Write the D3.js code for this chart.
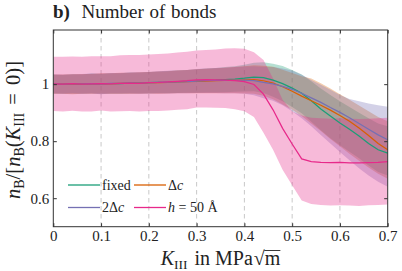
<!DOCTYPE html>
<html>
<head>
<meta charset="utf-8">
<script src="https://cdn.jsdelivr.net/npm/d3@7"></script>
<style>
  body { margin: 0; background: #fff; }
  svg { display: block; }
  text { font-family: "Liberation Serif", serif; fill: #222; }
</style>
</head>
<body>
<div id="chart"></div>
<script>
"use strict";

// K_III grid (MPa sqrt(m))
var kValues = [0.00, 0.02, 0.04, 0.06, 0.08, 0.10, 0.12, 0.14, 0.16, 0.18,
               0.20, 0.22, 0.24, 0.26, 0.28, 0.30, 0.32, 0.34, 0.36, 0.38,
               0.40, 0.42, 0.44, 0.46, 0.48, 0.50, 0.52, 0.54, 0.56, 0.58,
               0.60, 0.62, 0.64, 0.66, 0.68, 0.70];

// normalised number of bonds: mean with lower / upper edge of the spread
var fixedMean = [1.000, 0.999, 1.001, 1.000, 1.002, 1.001, 1.002, 1.002, 1.004, 1.004,
                 1.005, 1.006, 1.007, 1.009, 1.010, 1.011, 1.013, 1.014, 1.016, 1.018,
                 1.021, 1.025, 1.023, 1.014, 1.002, 0.986, 0.968, 0.942, 0.913, 0.888,
                 0.864, 0.842, 0.818, 0.792, 0.770, 0.758];
var fixedLow = [0.967, 0.966, 0.967, 0.966, 0.967, 0.966, 0.966, 0.966, 0.967, 0.967,
                0.967, 0.968, 0.968, 0.969, 0.970, 0.970, 0.971, 0.971, 0.972, 0.973,
                0.974, 0.975, 0.969, 0.956, 0.940, 0.920, 0.898, 0.868, 0.838, 0.810,
                0.786, 0.763, 0.740, 0.715, 0.692, 0.680];
var fixedHigh = [1.033, 1.032, 1.035, 1.034, 1.037, 1.036, 1.038, 1.038, 1.041, 1.041,
                 1.043, 1.044, 1.046, 1.049, 1.050, 1.052, 1.055, 1.057, 1.060, 1.063,
                 1.068, 1.075, 1.077, 1.072, 1.064, 1.050, 1.034, 1.010, 0.985, 0.962,
                 0.940, 0.920, 0.900, 0.880, 0.862, 0.852];

var deltaMean = [1.000, 1.000, 1.000, 1.001, 1.001, 1.002, 1.002, 1.003, 1.003, 1.004,
                 1.005, 1.005, 1.006, 1.008, 1.009, 1.010, 1.011, 1.012, 1.013, 1.014,
                 1.015, 1.016, 1.012, 1.004, 0.991, 0.975, 0.958, 0.942, 0.926, 0.909,
                 0.890, 0.870, 0.846, 0.820, 0.792, 0.770];
var deltaLow = [0.966, 0.966, 0.965, 0.966, 0.966, 0.966, 0.966, 0.966, 0.966, 0.966,
                0.967, 0.966, 0.967, 0.968, 0.968, 0.968, 0.968, 0.968, 0.968, 0.968,
                0.967, 0.966, 0.959, 0.947, 0.929, 0.910, 0.888, 0.862, 0.836, 0.808,
                0.782, 0.756, 0.731, 0.708, 0.686, 0.668];
var deltaHigh = [1.034, 1.034, 1.035, 1.036, 1.036, 1.038, 1.038, 1.040, 1.040, 1.042,
                 1.043, 1.044, 1.045, 1.048, 1.050, 1.052, 1.054, 1.056, 1.058, 1.060,
                 1.063, 1.066, 1.065, 1.061, 1.051, 1.039, 1.028, 1.020, 1.003, 0.985,
                 0.965, 0.945, 0.925, 0.905, 0.885, 0.870];

var twoDeltaMean = [1.001, 1.000, 1.001, 1.001, 1.002, 1.001, 1.003, 1.003, 1.004, 1.004,
                    1.005, 1.006, 1.007, 1.008, 1.009, 1.011, 1.012, 1.013, 1.013, 1.014,
                    1.014, 1.012, 1.006, 1.001, 0.992, 0.982, 0.968, 0.952, 0.936, 0.918,
                    0.901, 0.882, 0.862, 0.842, 0.822, 0.805];
var twoDeltaLow = [0.967, 0.966, 0.967, 0.966, 0.967, 0.965, 0.967, 0.967, 0.967, 0.966,
                   0.967, 0.967, 0.967, 0.968, 0.968, 0.969, 0.969, 0.969, 0.968, 0.968,
                   0.966, 0.961, 0.951, 0.942, 0.926, 0.905, 0.880, 0.852, 0.822, 0.792,
                   0.762, 0.733, 0.705, 0.680, 0.658, 0.640];
var twoDeltaHigh = [1.035, 1.034, 1.035, 1.036, 1.037, 1.037, 1.039, 1.039, 1.041, 1.042,
                    1.043, 1.045, 1.047, 1.048, 1.050, 1.053, 1.055, 1.057, 1.058, 1.060,
                    1.062, 1.063, 1.061, 1.060, 1.055, 1.048, 1.033, 1.015, 0.998, 0.980,
                    0.962, 0.948, 0.940, 0.932, 0.926, 0.921];

var hMean = [1.001, 1.000, 1.002, 1.000, 1.001, 1.002, 1.001, 1.003, 1.004, 1.003,
             1.005, 1.006, 1.008, 1.010, 1.012, 1.015, 1.016, 1.015, 1.014, 1.012,
             1.009, 0.999, 0.965, 0.910, 0.845, 0.790, 0.738, 0.728, 0.726, 0.725,
             0.726, 0.724, 0.724, 0.725, 0.726, 0.728];
var hLow = [0.906, 0.904, 0.907, 0.904, 0.904, 0.908, 0.904, 0.905, 0.906, 0.904,
            0.906, 0.906, 0.908, 0.910, 0.912, 0.918, 0.918, 0.917, 0.916, 0.912,
            0.905, 0.885, 0.830, 0.770, 0.700, 0.645, 0.592, 0.580, 0.576, 0.574,
            0.575, 0.574, 0.573, 0.575, 0.576, 0.578];
var hHigh = [1.096, 1.096, 1.097, 1.096, 1.098, 1.098, 1.098, 1.101, 1.102, 1.102,
             1.104, 1.106, 1.108, 1.111, 1.114, 1.118, 1.120, 1.122, 1.125, 1.126,
             1.124, 1.112, 1.085, 1.020, 0.945, 0.905, 0.890, 0.882, 0.880, 0.879,
             0.880, 0.879, 0.878, 0.879, 0.880, 0.882];

var xTicks = [0, 0.1, 0.2, 0.3, 0.4, 0.5, 0.6, 0.7];
var yTicks = [0.6, 0.8, 1];
var gridTicks = [0.1, 0.2, 0.3, 0.4, 0.5, 0.6];

var seriesColors = ["#1b9e77", "#d95f02", "#7570b3", "#e7298a"];

var series = [
  {key: "fixed", mean: fixedMean, low: fixedLow, high: fixedHigh},
  {key: "dc", mean: deltaMean, low: deltaLow, high: deltaHigh},
  {key: "2dc", mean: twoDeltaMean, low: twoDeltaLow, high: twoDeltaHigh},
  {key: "h50", mean: hMean, low: hLow, high: hHigh}
];

var W = 402, H = 271;
var margin = {top: 30, right: 14.3, bottom: 44.3, left: 53.3};
var width = W - margin.left - margin.right,
    height = H - margin.top - margin.bottom;

var svg = d3.select("#chart").append("svg")
  .attr("width", W)
  .attr("height", H);

var g = svg.append("g")
  .attr("transform", "translate(" + margin.left + "," + margin.top + ")");

var x = d3.scaleLinear().domain([0, 0.7]).range([0, width]);
var y = d3.scaleLinear().domain([0.5, 1.19]).range([height, 0]);

// dashed vertical grid
g.selectAll(".grid").data(gridTicks)
  .enter().append("line")
  .attr("x1", d => x(d)).attr("x2", d => x(d))
  .attr("y1", 0).attr("y2", height)
  .style("stroke", "#c8c8c8")
  .style("stroke-width", 1)
  .style("stroke-dasharray", "4.5,3.5");

g.append("clipPath").attr("id", "plotclip")
  .append("rect").attr("width", width).attr("height", height);

var plot = g.append("g").attr("clip-path", "url(#plotclip)");

var band = d3.area()
  .x((d, i) => x(kValues[i]))
  .y0(d => y(d[0]))
  .y1(d => y(d[1]));

var line = d3.line()
  .x((d, i) => x(kValues[i]))
  .y(d => y(d));

series.forEach(function(s, i) {
  plot.append("path")
    .datum(s.low.map((lo, j) => [lo, s.high[j]]))
    .attr("d", band)
    .style("fill", seriesColors[i])
    .style("fill-opacity", 0.32)
    .style("stroke", "none");
});

series.forEach(function(s, i) {
  plot.append("path")
    .datum(s.mean)
    .attr("d", line)
    .style("fill", "none")
    .style("stroke", seriesColors[i])
    .style("stroke-width", 1.25);
});

// axes with inward ticks on all sides
var tickLen = 3.5;
g.append("g").attr("transform", "translate(0," + height + ")")
  .call(d3.axisBottom(x).tickValues(xTicks).tickSize(-tickLen).tickFormat(d3.format("")))
  .call(a => a.select(".domain").remove())
  .call(a => a.selectAll("text").attr("y", 4).attr("dy", "0.71em").style("font-size", "15px"));
g.append("g")
  .call(d3.axisTop(x).tickValues(xTicks).tickSize(-tickLen).tickFormat(""))
  .call(a => a.select(".domain").remove());
g.append("g")
  .call(d3.axisLeft(y).tickValues(yTicks).tickSize(-tickLen).tickFormat(d3.format("")))
  .call(a => a.select(".domain").remove())
  .call(a => a.selectAll("text").attr("x", -4).style("font-size", "15px"));
g.append("g").attr("transform", "translate(" + width + ",0)")
  .call(d3.axisRight(y).tickValues(yTicks).tickSize(-tickLen).tickFormat(""))
  .call(a => a.select(".domain").remove());
g.selectAll(".tick line").style("stroke", "#333");
g.selectAll(".tick text").style("font-family", "\"Liberation Serif\", serif").style("fill", "#222");

g.append("rect")
  .attr("width", width).attr("height", height)
  .style("fill", "none").style("stroke", "#333").style("stroke-width", 1);

// title
var title = svg.append("text").attr("y", 18).style("font-size", "19px").style("word-spacing", "1px");
title.append("tspan").attr("x", 53).style("font-weight", "bold").text("b)");
title.append("tspan").attr("x", 81.5).text("Number of bonds");

// x label
var xl = svg.append("text")
  .attr("x", margin.left + width / 2).attr("y", 265)
  .attr("text-anchor", "middle").style("font-size", "20px");
xl.append("tspan").style("font-style", "italic").text("K");
xl.append("tspan").attr("dy", 3.5).style("font-size", "13.5px").text("III");
xl.append("tspan").attr("dy", -3.5).attr("dx", 2).text(" in MPa");
xl.append("tspan").attr("dx", 1).text("\u221A");
xl.append("tspan").text("m");
var nChars = xl.node().getNumberOfChars();
var mBox = xl.node().getExtentOfChar(nChars - 1);
svg.append("line")
  .attr("x1", mBox.x - 0.5).attr("x2", mBox.x + mBox.width)
  .attr("y1", mBox.y + 3.5).attr("y2", mBox.y + 3.5)
  .style("stroke", "#222").style("stroke-width", 0.9);

// y label
var yl = svg.append("text")
  .attr("transform", "translate(20," + (margin.top + 100) + ") rotate(-90)")
  .attr("text-anchor", "middle").style("font-size", "20.5px");
yl.append("tspan").style("font-style", "italic").text("n");
yl.append("tspan").attr("dy", 3.5).style("font-size", "14px").text("B");
yl.append("tspan").attr("dy", -3.5).text("/[");
yl.append("tspan").style("font-style", "italic").text("n");
yl.append("tspan").attr("dy", 3.5).style("font-size", "14px").text("B");
yl.append("tspan").attr("dy", -3.5).text("(");
yl.append("tspan").style("font-style", "italic").text("K");
yl.append("tspan").attr("dy", 3.5).style("font-size", "14px").text("III");
yl.append("tspan").attr("dy", -3.5).attr("dx", 3).text(" = ");
yl.append("tspan").attr("dx", 3).text("0)]");

// legend
var legendItems = [
  {parts: [["fixed", false]], col: 0, row: 0},
  {parts: [["\u0394", false], ["c", true]], col: 1, row: 0},
  {parts: [["2\u0394", false], ["c", true]], col: 0, row: 1},
  {parts: [["h", true], [" = 50 \u00C5", false]], col: 1, row: 1}
];
var legend = svg.append("g");
legendItems.forEach(function(item, i) {
  var lx = 68 + item.col * 66, ly = 185 + item.row * 22.5;
  legend.append("line")
    .attr("x1", lx).attr("x2", lx + 32)
    .attr("y1", ly).attr("y2", ly)
    .style("stroke", seriesColors[i]).style("stroke-width", 1.3);
  var t = legend.append("text").attr("x", lx + 34).attr("y", ly + 4.5).style("font-size", "14px");
  item.parts.forEach(function(p) {
    t.append("tspan").style("font-style", p[1] ? "italic" : "normal").text(p[0]);
  });
});
</script>
</body>
</html>
